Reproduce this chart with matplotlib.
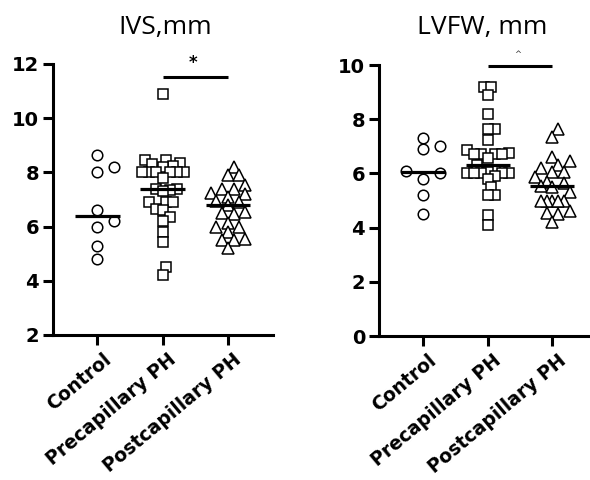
import numpy as np
import matplotlib
matplotlib.use("Agg")
import matplotlib.pyplot as plt
import matplotlib.transforms as mtransforms

groups = ["Control", "Precapillary PH", "Postcapillary PH"]

ivs_control = [8.65, 8.0, 8.2, 6.6, 6.0, 6.2, 5.3, 4.8]
ivs_precap = [10.9, 8.45, 8.45, 8.35, 8.3, 8.25, 8.2, 8.0, 8.0, 8.0, 8.0, 8.0,
              8.0, 7.8, 7.4, 7.4, 7.35, 7.3, 6.9, 6.9, 6.9, 6.65, 6.6, 6.35,
              6.2, 5.8, 5.45, 4.5, 4.2]
ivs_postcap = [8.2, 7.9, 7.9, 7.55, 7.4, 7.4, 7.25, 7.2, 7.1, 6.95, 6.9, 6.8,
               6.55, 6.5, 6.45, 6.15, 6.0, 6.0, 5.8, 5.55, 5.5, 5.5, 5.2]

lvfw_control = [7.0, 7.3, 6.9, 5.8, 6.1, 6.0, 5.2, 4.5]
lvfw_precap = [9.2, 9.2, 8.9, 8.2, 7.65, 7.65, 7.25, 6.85, 6.75, 6.7, 6.7, 6.7,
               6.7, 6.55, 6.3, 6.1, 6.05, 6.0, 6.0, 6.0, 6.0, 6.0, 5.9, 5.8,
               5.5, 5.2, 5.2, 4.45, 4.1]
lvfw_postcap = [7.65, 7.35, 6.6, 6.45, 6.3, 6.2, 6.05, 6.05, 5.85, 5.7, 5.65,
                5.55, 5.5, 5.3, 5.0, 5.0, 5.0, 5.0, 5.0, 4.6, 4.55, 4.5, 4.2]

titles = ["IVS,mm", "LVFW, mm"]
y_limits = [(2, 12), (0, 10)]
sig_y = [11.52, 9.95]
sig_marks = ["*", "^"]

W, H, DPI = 590, 480, 100
fig = plt.figure(figsize=(W / DPI, H / DPI), dpi=DPI)

# axes rectangles in pixels (left, top, right, bottom)
rects = [(53, 64, 273, 335), (379, 65, 597, 336)]
XLIM = (-0.68, 2.69)
# min horizontal separation (px), candidate step (px), max half-width (px)
group_spacing = [17.0, 7.0, 11.5]
group_step = [17.0, 3.5, 5.75]
group_halfwidth = [17.5, 22.0, 17.5]


def swarm(values, px_x, px_y, sx, sy, step, half):
    vals = np.asarray(values, dtype=float)
    order = np.argsort(vals)
    placed = []
    offs = np.zeros(len(vals))
    cands = [0.0]
    k = 1
    while k * step <= half + 0.01:
        cands += [k * step, -k * step]
        k += 1
    for i in order:
        y = vals[i] * px_y
        best, best_d = cands[0], -1.0
        for c in cands:
            d = min([((c - px) / sx) ** 2 + ((y - py) / sy) ** 2
                     for px, py in placed] + [9.0])
            if d >= 0.98:
                best = c
                break
            if d > best_d + 1e-9:
                best, best_d = c, d
        placed.append((best, y))
        offs[i] = best / px_x
    return offs


markers = [("o", 7.6), ("s", 7.0), ("^", 8.2)]
datasets = [[ivs_control, ivs_precap, ivs_postcap],
            [lvfw_control, lvfw_precap, lvfw_postcap]]

for p in range(2):
    l, t, r, b = rects[p]
    ax = fig.add_axes([l / W, (H - b) / H, (r - l) / W, (b - t) / H])
    ax.set_xlim(*XLIM)
    ax.set_ylim(*y_limits[p])
    px_x = (r - l) / (XLIM[1] - XLIM[0])
    px_y = (b - t) / (y_limits[p][1] - y_limits[p][0])
    for g, vals in enumerate(datasets[p]):
        m, ms = markers[g]
        offs = swarm(vals, px_x, px_y, group_spacing[g], 9.0,
                     group_step[g], group_halfwidth[g])
        ax.plot(g + offs, vals, linestyle="none", marker=m, markersize=ms,
                markerfacecolor="white", markeredgecolor="black",
                markeredgewidth=1.1, clip_on=False, zorder=2)
        ax.hlines(np.median(vals), g - 0.34, g + 0.34, color="black",
                  linewidth=2.3, zorder=3)
    ax.plot([1.0, 2.0], [sig_y[p], sig_y[p]], color="black", linewidth=2.2,
            clip_on=False, solid_capstyle="butt")
    if p == 0:
        ax.text(1.47, sig_y[p] + 0.18, sig_marks[p], ha="center", va="bottom",
                fontsize=12, fontweight="bold")
    else:
        ax.text(1.47, sig_y[p] + 0.28, sig_marks[p], ha="center", va="bottom",
                fontsize=6, color="#333333")
    for s in ["top", "right"]:
        ax.spines[s].set_visible(False)
    for s in ["left", "bottom"]:
        ax.spines[s].set_linewidth(2.2)
    lo, hi = y_limits[p]
    ax.set_yticks(np.arange(lo, hi + 1, 2))
    ax.set_xticks(range(3))
    ax.tick_params(axis="both", length=7, width=2.2, direction="out", pad=3)
    ax.tick_params(axis="y", labelsize=14)
    for lab in ax.get_yticklabels():
        lab.set_fontweight("bold")
        lab.set_family("DejaVu Sans")
    ax.set_xticklabels(groups, rotation=40, ha="right", va="top",
                       rotation_mode="anchor", fontsize=13.5,
                       fontweight="bold", family="DejaVu Sans")
    shift = mtransforms.ScaledTranslation(5 / DPI, -1 / DPI, fig.dpi_scale_trans)
    for lab in ax.get_xticklabels():
        lab.set_transform(lab.get_transform() + shift)
    ax.set_facecolor("none")
    fig.text(((l + r) / 2 + (2 if p == 0 else -6)) / W, 1 - 34 / H, titles[p],
             ha="center", va="baseline", fontsize=19, family="Open Sans")

fig.savefig("out.png", dpi=DPI)
